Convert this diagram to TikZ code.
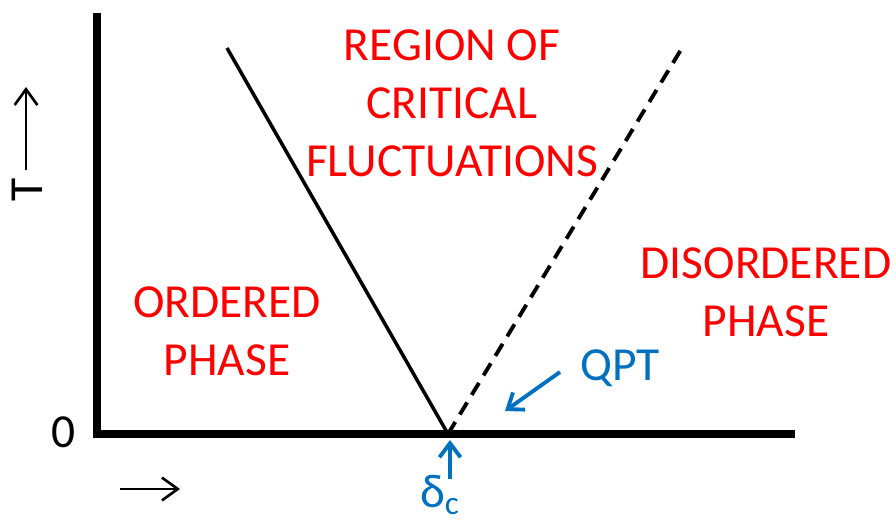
\documentclass[tikz,border=0pt]{standalone}
\usepackage{fontspec}
\setmainfont{Carlito}
\usetikzlibrary{arrows.meta}
\definecolor{qptblue}{RGB}{0,112,192}
\begin{document}
\begin{tikzpicture}[x=0.02cm, y=-0.02cm, >={Straight Barb[length=9pt, width=13pt]},
  phase/.style={red, align=center, font=\fontsize{27}{33}\selectfont},
  axislabel/.style={font=\fontsize{27}{33}\selectfont},
  bluelabel/.style={qptblue, font=\fontsize{27}{33}\selectfont},
  bluearrow/.style={-{Straight Barb[length=8pt, width=12pt]}, qptblue, line width=2.2pt}]
  \useasboundingbox (0,0) rectangle (896,522);
  % Axes
  \coordinate (ytop) at (97,13);
  \coordinate (orig) at (97,434);
  \coordinate (xend) at (795,434);
  \draw[line width=4pt] (ytop) -- (orig) -- (xend);
  \node[axislabel] (zero) at (64,432) {0};
  % Fleches des axes
  \coordinate (tfrom) at (26,170);
  \coordinate (tto) at (26,87);
  \draw[->, line width=1.5pt] (tfrom) -- (tto);
  \node[axislabel, rotate=90] (tlabel) at (27,190) {T};
  \coordinate (dfrom) at (120,489);
  \coordinate (dto) at (180,489);
  \draw[->, line width=1.5pt] (dfrom) -- (dto);
  % Point critique quantique et lignes de crossover
  \coordinate (qcp) at (448,434);
  \coordinate (lefttop) at (227,48);
  \coordinate (righttop) at (682,48);
  \draw[line width=2pt] (lefttop) -- (qcp);
  \draw[line width=2.2pt, dash pattern=on 8pt off 5pt] (qcp) -- (righttop);
  % Regions
  \node[phase] (critical) at (452,103) {REGION OF\\CRITICAL\\FLUCTUATIONS};
  \node[phase] (ordered) at (227,331) {ORDERED\\PHASE};
  \node[phase] (disordered) at (766,292) {DISORDERED\\PHASE};
  % QPT et delta_c
  \node[bluelabel] (qpt) at (620,368) {QPT};
  \coordinate (qfrom) at (560,372);
  \coordinate (qto) at (505,411);
  \draw[bluearrow] (qfrom) -- (qto);
  \node[bluelabel] (deltac) at (440,495) {δ\textsubscript{c}};
  \coordinate (cfrom) at (450,479);
  \coordinate (cto) at (450,440);
  \draw[bluearrow] (cfrom) -- (cto);
\end{tikzpicture}
\end{document}
